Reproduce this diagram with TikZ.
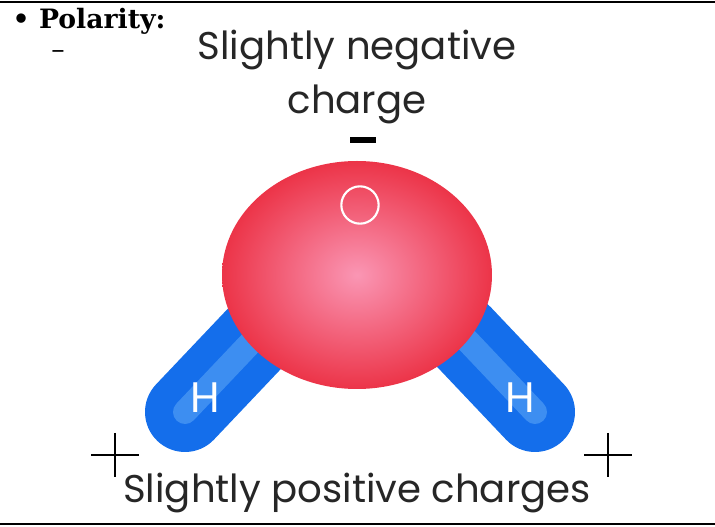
\documentclass[tikz,border=0pt]{standalone}
\usepackage{fontspec}
\setsansfont{Poppins}
\newfontfamily\headfont{DejaVu Serif}[Scale=2.0]
\usetikzlibrary{positioning}
\definecolor{oxred}{RGB}{236,52,72}
\definecolor{oxpink}{RGB}{250,150,180}
\definecolor{hblue}{RGB}{20,110,235}
\definecolor{hlight}{RGB}{90,180,255}
\tikzset{
  label text/.style={font=\sffamily\fontsize{29}{32}\selectfont, text=black!85},
  atom text/.style={font=\sffamily\fontsize{32}{32}\selectfont, text=white},
  lobe/.style={line cap=round, line width=60pt, hblue},
  lobe light/.style={line cap=round, line width=18pt, hlight!70, opacity=.35},
  charge/.style={line width=2pt, black}
}
\begin{document}
\begin{tikzpicture}[x=0.75pt,y=-0.75pt]
  \useasboundingbox (0,0) rectangle (715,527);
  % frame lines
  \draw[line width=2pt] (0,2) -- (715,2);
  \draw[line width=2pt] (0,524) -- (715,524);
  % heading
  \node[anchor=west] (head) at (8,21) {\headfont\bfseries \textbullet{} Polarity:};
  \node (dash) at (58,55) {\headfont –};
  % hydrogen lobes
  \coordinate (hl1) at (185,412);
  \coordinate (hl2) at (258,335);
  \coordinate (hr1) at (535,412);
  \coordinate (hr2) at (462,335);
  \draw[lobe] (hl1) -- (hl2);
  \draw[lobe] (hr1) -- (hr2);
  \draw[lobe light] (hl1) -- (hl2);
  \draw[lobe light] (hr1) -- (hr2);
  % oxygen
  \shade[inner color=oxpink, outer color=oxred] (357,275) ellipse [x radius=135, y radius=114];
  \node[circle, draw=white, line width=1.6pt, minimum size=28pt] (ox) at (360,205) {};
  \node[atom text] (hl) at (205,398) {H};
  \node[atom text] (hr) at (520,398) {H};
  % labels
  \node[label text] (neg1) at (357,50) {Slightly negative};
  \node[label text, below=4pt of neg1] (neg2) {charge};
  \draw[line width=5pt] (350,140) -- (376,140);
  \node[label text] (pos) at (357,493) {Slightly positive charges};
  \draw[charge] (91,455) -- (139,455);
  \draw[charge] (115,433) -- (115,477);
  \draw[charge] (584,455) -- (632,455);
  \draw[charge] (608,433) -- (608,477);
\end{tikzpicture}
\end{document}
